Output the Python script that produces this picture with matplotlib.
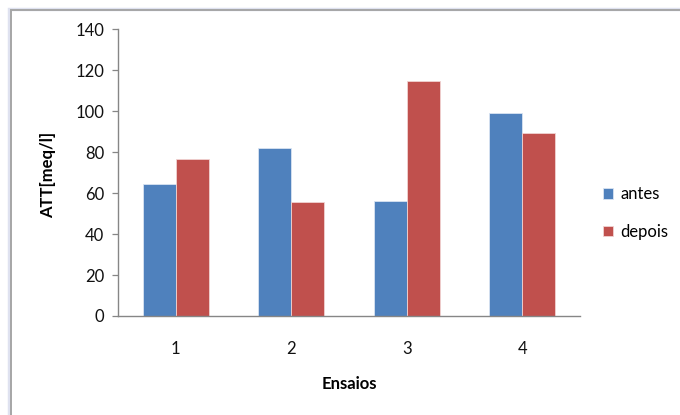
import matplotlib
matplotlib.use("Agg")
import matplotlib.pyplot as plt
from matplotlib.patches import Rectangle
import numpy as np

categories = ["1", "2", "3", "4"]
antes = [64.5, 81.8, 56.1, 98.9]
depois = [76.7, 55.6, 114.5, 89.1]
y_ticks = [0, 20, 40, 60, 80, 100, 120, 140]

plt.rcParams["font.family"] = ["Lato", "DejaVu Sans"]

fig = plt.figure(figsize=(6.8, 4.15), dpi=100)
W, H = 680, 415

# chart frame (Excel-style border)
fig.patches.append(Rectangle((9 / W, -0.1), 1.1, 1 - 9 / H + 0.1, transform=fig.transFigure,
                             facecolor="none", edgecolor="#dfe2f0", linewidth=2.5, zorder=0))
fig.patches.append(Rectangle((10.5 / W, -0.1), 1.1, 1 - 10.5 / H + 0.1, transform=fig.transFigure,
                             facecolor="none", edgecolor="#a6a6a6", linewidth=1.4, zorder=1))

ax = fig.add_axes([118 / W, 1 - 316 / H, (580 - 118) / W, (316 - 29) / H])

x = np.arange(1, len(categories) + 1)
w = 1 / 3.5
ax.bar(x - w / 2, antes, width=w, color="#4f81bd", edgecolor="#d9e4f2", linewidth=0.6, label="antes")
ax.bar(x + w / 2, depois, width=w, color="#c0504d", edgecolor="#f0d3d2", linewidth=0.6, label="depois")

ax.set_xlim(0.5, 4.5)
ax.set_ylim(0, 140)
ax.set_yticks(y_ticks)
ax.set_xticks(x)
ax.set_xticklabels(categories)

for s in ["top", "right"]:
    ax.spines[s].set_visible(False)
for s in ["left", "bottom"]:
    ax.spines[s].set_color("#868686")
    ax.spines[s].set_linewidth(1.0)

ax.tick_params(axis="y", length=4, width=0.9, color="#868686", labelsize=12, labelcolor="#111111", pad=6)
ax.tick_params(axis="x", length=0, labelsize=12, labelcolor="#111111", pad=18)

ax.set_xlabel("Ensaios", fontsize=12, fontweight="bold", labelpad=14)
fig.text(48 / W, 1 - 175 / H, "ATT[meq/l]", rotation=90, fontsize=12, fontweight="bold",
         ha="center", va="center")

ax.legend(loc="center left", bbox_to_anchor=(603 / W, 1 - 213 / H), bbox_transform=fig.transFigure,
          frameon=False, fontsize=12, handlelength=0.6, handleheight=0.6, handletextpad=0.45,
          labelspacing=1.3, borderaxespad=0, borderpad=0)

fig.savefig("out.png", dpi=100)
